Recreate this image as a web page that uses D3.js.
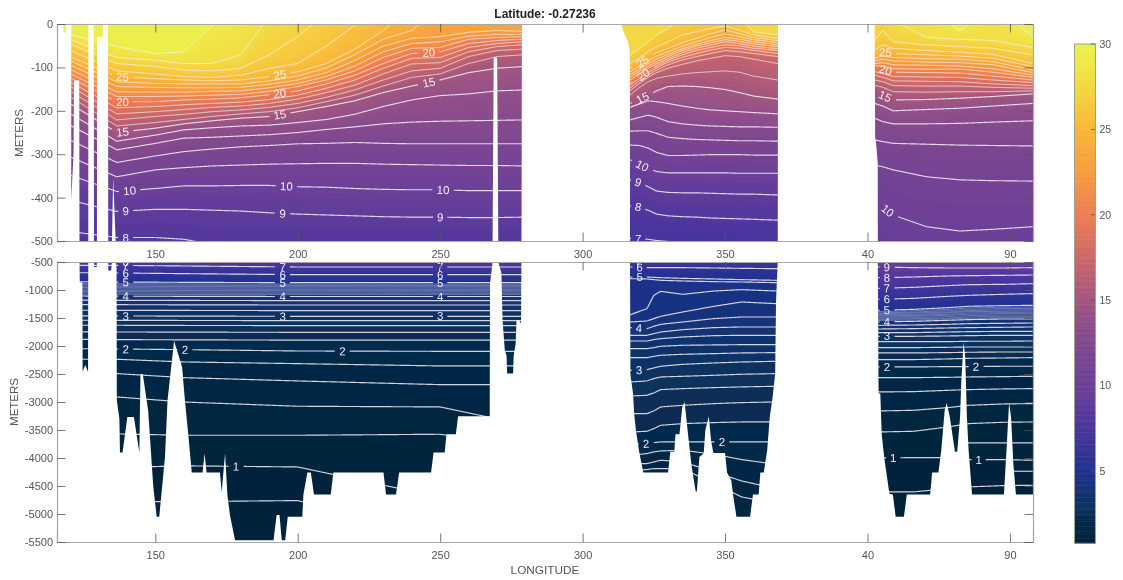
<!DOCTYPE html>
<html><head><meta charset="utf-8">
<style>html,body{margin:0;padding:0;background:#fff}svg{display:block}text{font-family:"Liberation Sans",Arial,sans-serif}</style>
<script src="https://cdn.jsdelivr.net/npm/d3@7/dist/d3.min.js"></script></head><body>
<script>
const title = "Latitude: -0.27236";
const lonTicks = [150,200,250,300,350,400,450];
const upperDepthTicks = [0,100,200,300,400,500];
const lowerDepthTicks = [500,1000,1500,2000,2500,3000,3500,4000,4500,5000,5500];
const colorTicks = [5,10,15,20,25,30];
const colorStops = [0.76,2,3,5,7.5,10,12,14,15,17,20,23,25,27,29,30];
const colorHex = ["#03233a","#05294a","#0c3364","#1f3290","#4c359f","#6c4098","#7c4690","#93508a","#a2567f","#c4646d","#ef7d52","#f8a13c","#f9b63a","#f6d040","#eeea48","#e8f24f"];

// Pacific
const pacificTopLons = [120,136.5,150,160,170,180,190,200,210,220,230,240,250,260,270,279];
const pacificTopLevels = [29,28,27,26,25,24,23,22,21,20,19,18,17,16,15,14,13,12,11,10,9,8];
const pacificTopDepths = [
[25,52,68,64,5,-40,-40,-40,-40,-40,-40,-40,-40,-40,-40,-40],
[35,77,83,91,91,71,-17,-40,-40,-40,-40,-40,-40,-40,-40,-40],
[46,91,98,106,108,102,71,29,-25,-40,-40,-40,-40,-40,-40,-40],
[60,108,115,121,123,118,102,91,51,3,-40,-40,-40,-40,-40,-40],
[75,121,126,129,131,129,121,110,91,58,15,-40,-40,-40,-40,-40],
[84,133,137,138,138,138,131,120,101,71,35,15,-40,-40,-40,-40],
[94,144,146,147,147,146,139,129,112,84,51,33,29,19,15,17],
[104,156,157,157,155,154,147,137,121,97,64,45,41,28,24,24],
[114,167,167,166,164,162,155,144,129,108,77,56,54,35,31,29],
[123,179,179,175,173,170,163,154,138,118,91,68,64,45,38,35],
[133,193,190,186,183,180,174,164,148,129,102,79,77,54,45,41],
[143,207,202,197,192,189,183,173,158,141,115,92,89,64,52,48],
[154,221,213,208,202,198,192,183,169,152,129,108,102,75,61,58],
[167,235,227,220,213,207,202,193,179,164,143,123,115,91,75,71],
[183,250,240,230,223,217,213,202,190,177,158,143,129,112,102,98],
[206,270,256,244,239,235,233,227,220,208,190,175,165,161,154,152],
[233,290,275,263,261,258,255,250,243,237,230,226,224,223,222,221],
[267,319,304,294,288,283,280,276,275,273,275,276,276,276,276,276],
[306,352,336,331,327,325,323,322,321,321,323,324,325,326,326,327],
[348,386,379,373,373,372,372,375,376,379,381,382,382,384,384,384],
[406,432,427,427,429,431,435,438,440,442,444,445,445,446,446,445],
[478,492,492,496,508,505,505,505,505,505,505,505,505,505,505,505]];
const pacificDeepLons = [120,136.5,160,200,250,279];
const pacificDeepLevels = [7,6,5,4.9,4.8,4.7,4.6,4.5,4.4,4.3,4.2,4.1,4,3.75,3.5,3.25,3,2.8,2.6,2.4,2.2,2,1.8,1.6,1.4,1.2,1,0.8];
const pacificDeepDepths = [
[560,560,571,589,589,589],[690,696,708,726,726,726],[851,857,863,869,869,869],
[885,887,892,895,895,895],[908,911,915,918,918,918],[932,934,938,941,941,941],
[955,958,962,964,964,964],[979,982,985,988,988,988],[1003,1006,1009,1011,1011,1011],
[1026,1029,1032,1035,1035,1035],[1050,1053,1056,1058,1058,1058],[1074,1077,1080,1082,1082,1082],
[1107,1110,1113,1116,1116,1116],[1180,1184,1186,1190,1190,1190],[1262,1262,1265,1268,1268,1268],
[1360,1363,1365,1368,1368,1368],[1460,1464,1466,1470,1470,1470],[1541,1541,1544,1547,1547,1547],
[1630,1630,1633,1636,1636,1636],[1745,1750,1752,1756,1756,1756],[1880,1886,1890,1895,1895,1895],
[2047,2053,2065,2089,2095,2095],[2237,2237,2285,2315,2356,2356],[2493,2493,2565,2624,2690,2690],
[2910,2910,3000,3076,3088,3400],[3570,3570,3594,3594,3576,3800],[4170,4170,4140,4160,4700,5000],
[4780,4780,4780,4760,5400,5500]];
const pacificLabels = [[138.5,25],[193.7,25],[138.5,20],[193.7,20],[246,20],[138.5,15],[193.7,15],[246,15],[141,10],[196,10],[251,10],[139.6,9],[194.7,9],[250,9],[139.6,8],[139.6,7],[194.7,7],[250,7],[139.6,6],[194.7,6],[250,6],[139.6,5],[194.7,5],[250,5],[139.6,4],[194.7,4],[250,4],[139.6,3],[194.7,3],[250,3],[139.6,2],[160.4,2],[215.7,2],[178.3,1]];

// Atlantic
const atlanticTopLons = [316.6,320,323,326,330,335,340,345,350,355,360,368.5];
const atlanticTopLevels = [27,26,25,24,23,22,21,20,19,18,17,16,15,14,13,12,11,10,9,8,7];
const atlanticTopDepths = [
[71,56,41,25,10,-17,-32,-32,-32,-17,18,25],
[91,77,64,52,41,25,18,10,5,14,25,33],
[102,91,77,66,56,43,33,22,14,22,31,38],
[110,97,84,74,64,51,41,31,23,29,36,43],
[117,104,91,81,70,57,47,38,31,35,41,48],
[123,109,97,87,75,61,51,43,36,40,46,52],
[129,115,102,92,80,66,56,48,41,45,51,57],
[137,123,108,97,84,71,61,54,48,50,56,61],
[141,125,112,101,88,77,68,60,54,56,61,68],
[148,131,118,106,94,83,75,68,61,64,68,75],
[154,137,123,112,102,93,85,79,73,75,81,91],
[164,146,133,125,120,115,112,110,108,111,120,129],
[183,173,164,154,144,143,144,147,151,158,166,173],
[192,184,177,179,183,189,194,198,200,202,204,207],
[221,215,210,215,225,230,233,235,236,237,237,238],
[247,246,246,252,261,264,266,267,268,269,269,270],
[279,280,286,296,303,303,302,301,301,301,302,302],
[313,323,333,340,343,343,343,343,343,344,344,344],
[359,365,375,385,388,389,389,390,391,392,392,394],
[419,422,429,438,442,444,445,447,448,449,450,452],
[494,495,496,499,501,502,503,503,504,505,505,506]];
const atlanticDeepLons = [316.8,322.6,325,327.4,335.2,346.1,355.8,367.9];
const atlanticDeepLevels = [6,5,4.8,4.5,4.25,4,3.8,3.6,3.4,3.2,3,2.8,2.6,2.4,2.2,2,1.8,1.6,1.4];
const atlanticDeepDepths = [
[589,601,601,601,601,607,613,619],[768,768,774,780,792,803,815,827],[798,803,815,827,839,851,857,869],
[1440,1333,1095,1024,1077,1018,994,1018],[1571,1553,1511,1470,1392,1291,1214,1244],
[1672,1690,1648,1613,1571,1511,1482,1482],[1809,1809,1779,1750,1708,1672,1660,1660],
[1910,1910,1886,1869,1839,1815,1809,1809],[2047,2047,2029,2005,1987,1981,1976,1976],
[2208,2208,2184,2166,2148,2136,2124,2118],[2434,2422,2392,2362,2327,2303,2285,2273],
[2642,2624,2582,2553,2541,2523,2505,2493],[2892,2880,2838,2779,2761,2743,2731,2719],
[3207,3207,3160,3088,3059,3029,3011,2999],[3535,3523,3475,3416,3386,3368,3356,3356],
[3755,3743,3725,3713,3713,3713,3713,3713],[3951,3921,3891,3874,3862,3933,4028,4112],
[4100,4100,4070,4040,4070,4249,4409,4546],[4219,4207,4189,4189,4189,4457,4695,4814]];
const atlanticLabels = [[321,25],[321.3,20],[321,15],[321,10],[319.5,9],[319.5,8],[319.5,7],[320,6],[320,5],[319.8,4],[319.8,3],[322.3,2],[348.9,2]];

// Indian
const indianTopLons = [402.5,405.4,409,420.7,432.4,444.1,458.1];
const indianTopLevels = [29,28,27,26,25,24,23,22,21,20,19,18,17,16,15,14,13,12,11,10];
const indianTopDepths = [
[-40,-40,-40,-40,15,-40,29],[-40,-40,-9,31,35,38,54],[37,15,41,48,52,56,71],[60,48,56,61,65,70,91],
[71,64,68,71,74,79,98],[79,74,77,80,81,87,106],[85,81,85,88,89,94,112],[91,89,94,95,97,103,118],
[96,97,103,104,104,111,123],[102,104,111,112,113,120,129],[110,114,121,122,123,129,135],
[118,123,131,132,133,138,142],[129,133,142,143,143,146,148],[141,146,156,157,156,156,154],
[156,164,175,174,171,167,161],[183,189,200,197,194,189,183],[217,225,230,230,229,226,223],
[267,271,275,277,279,280,281],[325,329,336,352,359,361,362],[406,421,440,467,477,473,467]];
const indianDeepLons = [404.1,416.2,428.3,435.5,447.6,457.9];
const indianDeepLevels = [9,8,7,6,5,4.9,4.8,4.7,4.6,4.5,4.4,4.3,4.2,4.1,4,3.75,3.5,3.25,3,2.8,2.6,2.4,2.2,2,1.8,1.6,1.4,1.2,1,0.8];
const indianDeepDepths = [
[589,601,607,607,607,601],[780,768,750,744,738,732],[970,952,922,905,899,887],[1166,1149,1113,1095,1077,1065],
[1363,1345,1315,1291,1279,1274],[1387,1369,1345,1321,1309,1303],[1410,1393,1369,1345,1333,1327],
[1428,1410,1393,1369,1357,1351],[1446,1434,1410,1387,1381,1375],[1464,1452,1434,1410,1404,1398],
[1488,1470,1452,1434,1422,1422],[1506,1494,1476,1458,1446,1446],[1529,1512,1500,1482,1470,1470],
[1547,1535,1517,1506,1494,1494],[1571,1559,1541,1529,1517,1517],[1630,1625,1613,1601,1595,1589],
[1696,1690,1678,1672,1666,1660],[1761,1761,1750,1744,1738,1738],[1827,1827,1821,1815,1809,1809],
[1922,1922,1922,1916,1916,1910],[2029,2029,2023,2017,2017,2017],[2124,2124,2118,2112,2107,2107],
[2243,2243,2231,2220,2214,2208],[2374,2374,2368,2368,2362,2362],[2565,2565,2559,2553,2547,2541],
[2820,2815,2791,2779,2767,2761],[3160,3148,3100,3059,3035,3029],[3535,3523,3445,3386,3362,3356],
[3999,3993,3993,4028,4028,4040],[4606,4606,4546,4516,4493,4487]];
const indianLabels = [[406.3,25],[406.3,20],[406.2,15],[407.1,10],[406.8,9],[406.8,8],[406.8,7],[406.8,6],[406.8,5],[406.8,4],[406.8,3],[406.8,2],[438.1,2],[409,1],[439,1]];
const indianExtraLons = [[434.5,458],[451,458]];
const indianExtraDepths = [[3731,3731],[4237,4237]];

// Sea floor profile: longitude and depth of the land surface
const floorLon = [115,117.7,117.8,118.5,118.6,120.4,120.5,120.5,121.3,121.5,123.3,123.5,123.5,124.4,124.5,125.4,126.4,126.5,128.4,128.5,129.5,129.6,131.5,131.7,133.4,133.5,134.5,134.8,135.2,136.1,136.4,136.5,137.4,137.6,138.5,140.2,142.5,144.4,144.8,145.6,147.5,149.3,150.5,151.4,153.4,154.3,156.6,159.4,160.4,161.6,162.8,166.6,167.3,168,172.7,173.3,174.5,175.3,176.2,178,191.5,192.6,193.6,194.4,195.6,196.5,201.6,202,203.4,204.6,205.7,211.6,212.5,230.1,231,234.5,235.6,246.8,247.7,251.6,252.2,255.5,256.3,267.4,267.5,268.4,268.8,270,270.4,271.5,271.9,272.7,273.3,273.5,275.6,275.8,276.5,276.8,277.7,278.4,278.5,278.7,313.5,314.5,315.9,316.5,316.6,316.8,317.7,318.1,318.7,319.9,321.3,330,330.8,332.2,332.6,334,335,335.8,337.1,338.3,339.7,340.1,341,342.5,343.1,344.3,345.1,345.9,350,350.7,352.2,352.8,354,358.8,359.8,361.8,362.4,363.6,364.8,365.7,366.7,367.6,367.9,368.5,368.6,402.5,402.7,403.1,403.6,403.9,404.5,405,405.9,407.7,408.9,409.9,412.8,413.8,422,422.7,424.9,425.9,427.1,427.8,428.9,430.7,431.5,432.5,432.9,433.7,434.3,434.9,435.5,436.7,447.9,448.8,449.7,450.4,451.2,452.1,457.9,460];
const floorDepth = [0,0,20,20,0,0,0,405,300,130,130,860,860,860,2460,2340,2460,0,0,590,590,30,30,0,0,650,650,500,355,500,600,2970,3300,3900,3900,3270,3270,3900,2500,2500,3150,4515,5050,5050,3980,2970,1910,2370,2970,3590,4260,4260,3920,4260,4260,4605,3920,4650,5020,5470,5470,5020,5020,5470,5470,5050,5050,4650,4260,4260,4650,4650,4260,4260,4650,4650,4260,4260,3900,3900,3575,3575,3255,3255,890,500,77,77,500,700,1540,2080,2170,2490,2490,2170,1960,1540,1540,1600,650,0,0,20,40,60,100,2520,2850,3200,3500,3900,4260,4260,3890,3890,3575,3575,3090,3000,3620,4160,4600,4600,3980,3920,3500,3255,3690,3910,3910,4260,4400,4650,5050,5050,4650,4650,4260,4260,3860,3270,2910,2490,1200,500,0,0,260,280,320,2850,2850,3580,4000,4640,4650,5050,5050,4650,4650,4260,4260,3860,3150,3020,3270,3890,3890,3270,2680,1930,2200,3270,3860,4650,4650,3860,3020,3270,4100,4650,4650,4650];

const W = 1123, H = 580;
const PL = 57, PR = 1033;
const x = d3.scaleLinear().domain([115.5,458.1]).range([PL,PR]);
const yTop = d3.scaleLinear().domain([0,500]).range([24,241]);
const yLow = d3.scaleLinear().domain([500,5500]).range([262,542]);
const color = d3.scaleLinear().domain(colorStops).range(colorHex).clamp(true);

function basin(name, start, end, tl, tg, td, dl, dg, dd, labels){
  const levels = [];
  tl.forEach((t,i)=>levels.push({t, f:d3.scaleLinear().domain(tg).range(td[i]).clamp(true)}));
  dl.forEach((t,i)=>levels.push({t, f:d3.scaleLinear().domain(dg).range(dd[i]).clamp(true)}));
  return {name,start,end,levels,labels,grid:d3.range(start,end+0.001,0.25)};
}
const basins = [
  basin("pacific",115.5,279,pacificTopLevels,pacificTopLons,pacificTopDepths,pacificDeepLevels,pacificDeepLons,pacificDeepDepths,pacificLabels),
  basin("atlantic",313,369,atlanticTopLevels,atlanticTopLons,atlanticTopDepths,atlanticDeepLevels,atlanticDeepLons,atlanticDeepDepths,atlanticLabels),
  basin("indian",402,458.1,indianTopLevels,indianTopLons,indianTopDepths,indianDeepLevels,indianDeepLons,indianDeepDepths,indianLabels)
];

const svg = d3.select("body").append("svg").attr("width",W).attr("height",H).attr("viewBox",`0 0 ${W} ${H}`);
const defs = svg.append("defs");
const flt = defs.append("filter").attr("id","soft").attr("filterUnits","userSpaceOnUse").attr("x",0).attr("y",0).attr("width",W).attr("height",H);
flt.append("feGaussianBlur").attr("stdDeviation",0.5);
const root = svg.append("g").attr("filter","url(#soft)");

function panel(id, y, dmin, dmax){
  defs.append("clipPath").attr("id",id).append("rect").attr("x",PL).attr("y",y(dmin)).attr("width",PR-PL).attr("height",y(dmax)-y(dmin));
  const g = root.append("g").attr("clip-path",`url(#${id})`);
  const area = d3.area().x(d=>x(d.lon)).y0(d=>y(d.a)).y1(d=>y(d.b));
  basins.forEach(b=>{
    const lv = b.levels, gBands = g.append("g");
    // painted warm to cold: each layer runs from its upper edge down past the panel, so no seams show
    const addBand = (fa,col)=>{
      const pts = b.grid.map(lon=>({lon,a:fa(lon),b:6000}));
      gBands.append("path").attr("d",area(pts)).attr("fill",col);
    };
    addBand(()=>-100, color(lv[0].t+0.5));
    for(let i=0;i<lv.length-1;i++){
      const A=lv[i],B=lv[i+1],n=A.t-B.t>0.5?8:1;
      for(let k=0;k<n;k++){
        const u0=k/n,u1=(k+1)/n;
        addBand(l=>A.f(l)+(B.f(l)-A.f(l))*u0, color(A.t+(B.t-A.t)*(u0+u1)/2));
      }
    }
    const last=lv[lv.length-1];
    addBand(last.f,color(last.t-0.04));
    lv.forEach(L=>{
      const gaps=b.labels.filter(p=>p[1]===L.t).map(p=>[p[0],String(p[1]).length>1?3.6:2.5]);
      const dense=b.name!=="atlantic"&&L.t>4&&L.t<5;
      const warm=L.t>=16;
      const line=d3.line().x(d=>x(d)).y(d=>y(L.f(d))).defined(d=>L.f(d)>0&&!gaps.some(p=>Math.abs(d-p[0])<p[1]));
      g.append("path").attr("d",line(b.grid)).attr("fill","none").attr("stroke","#f6f1f6")
        .attr("stroke-opacity",dense?0.5:warm?0.75:0.85).attr("stroke-width",dense?0.8:warm?1:1.15);
    });
    if(b.name==="indian"){
      indianExtraLons.forEach((dom,i)=>{
        const f=d3.scaleLinear().domain(dom).range(indianExtraDepths[i]);
        g.append("path").attr("d",d3.line().x(d=>x(d)).y(d=>y(f(d)))(dom)).attr("fill","none").attr("stroke","#f6f1f6").attr("stroke-opacity",0.85).attr("stroke-width",1.15);
      });
    }
  });
  const land = floorLon.map((lon,i)=>({lon,a:floorDepth[i],b:7000}));
  g.append("path").attr("d",area(land)).attr("fill","#fff");
  basins.forEach(b=>{
    b.labels.forEach(([lon,t])=>{
      const L=b.levels.find(v=>v.t===t); const d=L.f(lon);
      if(d<dmin-30||d>dmax+30) return;
      const slope=(y(L.f(lon+1.5))-y(L.f(lon-1.5)))/(x(lon+1.5)-x(lon-1.5));
      const ang=Math.max(-40,Math.min(40,Math.atan(slope)*180/Math.PI));
      g.append("text").attr("transform",`translate(${x(lon)},${y(d)}) rotate(${ang})`).attr("text-anchor","middle").attr("dy","0.36em").attr("font-size",11.5).attr("fill","#f4eef6").text(t);
    });
  });
  // frame and axes
  const fr = root.append("g");
  const tickFmt = d=>d>=400?String(d-360):String(d);
  const xAxis = d3.axisBottom(x).tickValues(lonTicks).tickFormat(tickFmt).tickSize(-8.5).tickPadding(9);
  const xg = fr.append("g").attr("transform",`translate(0,${y(dmax)})`).call(xAxis);
  const xt = fr.append("g").attr("transform",`translate(0,${y(dmin)})`).call(d3.axisTop(x).tickValues(lonTicks).tickFormat("").tickSize(-8.5));
  const yAxis = d3.axisLeft(y).tickValues(id==="top"?upperDepthTicks:lowerDepthTicks).tickFormat(d=>d===0?"0":"-"+d).tickSize(-8.5).tickPadding(4);
  const yg = fr.append("g").attr("transform",`translate(${PL},0)`).call(yAxis);
  const yr = fr.append("g").attr("transform",`translate(${PR},0)`).call(d3.axisRight(y).tickValues(id==="top"?upperDepthTicks:lowerDepthTicks).tickFormat("").tickSize(-8.5));
  [xg,xt,yg,yr].forEach(s=>{
    s.select(".domain").attr("stroke","#a8a8a8").attr("stroke-width",1.2);
    s.selectAll(".tick line").attr("stroke","#555").attr("stroke-width",0.8);
    s.selectAll("text").attr("font-size",11).attr("fill","#555").attr("font-family",'"Liberation Sans",Arial,sans-serif');
  });
}
panel("top",yTop,0,500);
panel("low",yLow,500,5500);

root.append("text").attr("x",545).attr("y",18).attr("text-anchor","middle").attr("font-size",12).attr("font-weight","bold").attr("fill","#222").text(title);
root.append("text").attr("x",545).attr("y",574).attr("text-anchor","middle").attr("font-size",11.8).attr("fill","#555").text("LONGITUDE");
root.append("text").attr("transform","translate(23,133) rotate(-90)").attr("text-anchor","middle").attr("font-size",11.5).attr("fill","#555").text("METERS");
root.append("text").attr("transform","translate(18,402) rotate(-90)").attr("text-anchor","middle").attr("font-size",11.5).attr("fill","#555").text("METERS");

// colour bar
const yBar = d3.scaleLinear().domain([0.76,30]).range([543.3,44]);
const cb = root.append("g");
cb.selectAll("rect").data(d3.range(0.76,30,0.1)).join("rect")
  .attr("x",1074.5).attr("width",21).attr("y",d=>yBar(Math.min(30,d+0.1))).attr("height",d=>yBar(d)-yBar(Math.min(30,d+0.1))+0.5).attr("fill",d=>color(d+0.05));
cb.append("rect").attr("x",1074.5).attr("width",21).attr("y",44).attr("height",499.3).attr("fill","none").attr("stroke","#a0a090").attr("stroke-width",1);
const cbAxis = cb.append("g").attr("transform","translate(1095.5,0)").call(d3.axisRight(yBar).tickValues(colorTicks).tickSize(0).tickPadding(4));
cbAxis.select(".domain").remove();
cbAxis.selectAll("text").attr("font-size",10.5).attr("fill","#555").attr("font-family",'"Liberation Sans",Arial,sans-serif');
cb.selectAll("line.t").data(colorTicks).join("line").attr("class","t").attr("x1",1091).attr("x2",1095).attr("y1",d=>yBar(d)).attr("y2",d=>yBar(d)).attr("stroke","#555").attr("stroke-width",0.8);
</script></body></html>
